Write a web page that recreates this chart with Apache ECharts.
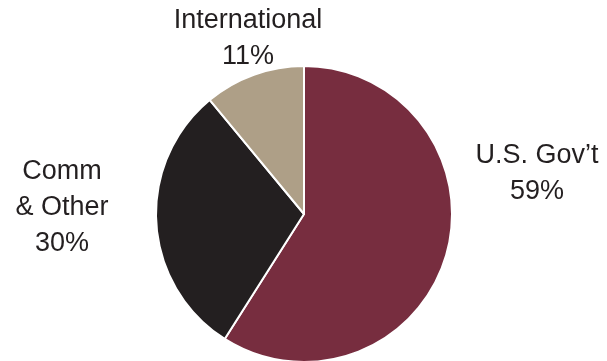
<!DOCTYPE html>
<html>
<head>
<meta charset="utf-8">
<script src="https://cdn.jsdelivr.net/npm/echarts@6/dist/echarts.min.js"></script>
<style>
  html, body { margin: 0; padding: 0; background: #fff; }
  #chart { width: 607px; height: 361px; }
</style>
</head>
<body>
<div id="chart"></div>
<script>
// Revenue mix
var segments = ['U.S. Gov\u2019t', 'Comm\n& Other', 'International'];
var shares = [59, 30, 11];
var colors = ['#772d3f', '#231f20', '#ae9f87'];

// label block centres (px)
var labelPos = [[537, 174], [62, 208], [248, 39]];

document.addEventListener("DOMContentLoaded", () => {
  var chart = echarts.init(document.querySelector("#chart"));
  chart.setOption({
    animation: false,
    series: [{
      type: 'pie',
      center: [304, 214],
      radius: 148,
      startAngle: 90,
      clockwise: true,
      avoidLabelOverlap: false,
      itemStyle: {
        borderColor: '#ffffff',
        borderWidth: 2
      },
      label: {
        show: true,
        position: 'outside',
        formatter: '{b}\n{c}%',
        fontFamily: '"Liberation Sans", Arial, sans-serif',
        fontSize: 27,
        lineHeight: 36,
        color: '#231f20',
        align: 'center',
        overflow: 'none',
        width: 200
      },
      labelLine: { show: false },
      labelLayout: function (params) {
        var p = labelPos[params.dataIndex];
        return {
          x: p[0],
          y: p[1],
          align: 'center',
          verticalAlign: 'middle'
        };
      },
      data: segments.map(function (name, i) {
        return { name: name, value: shares[i], itemStyle: { color: colors[i] } };
      })
    }]
  });
});
</script>
</body>
</html>
